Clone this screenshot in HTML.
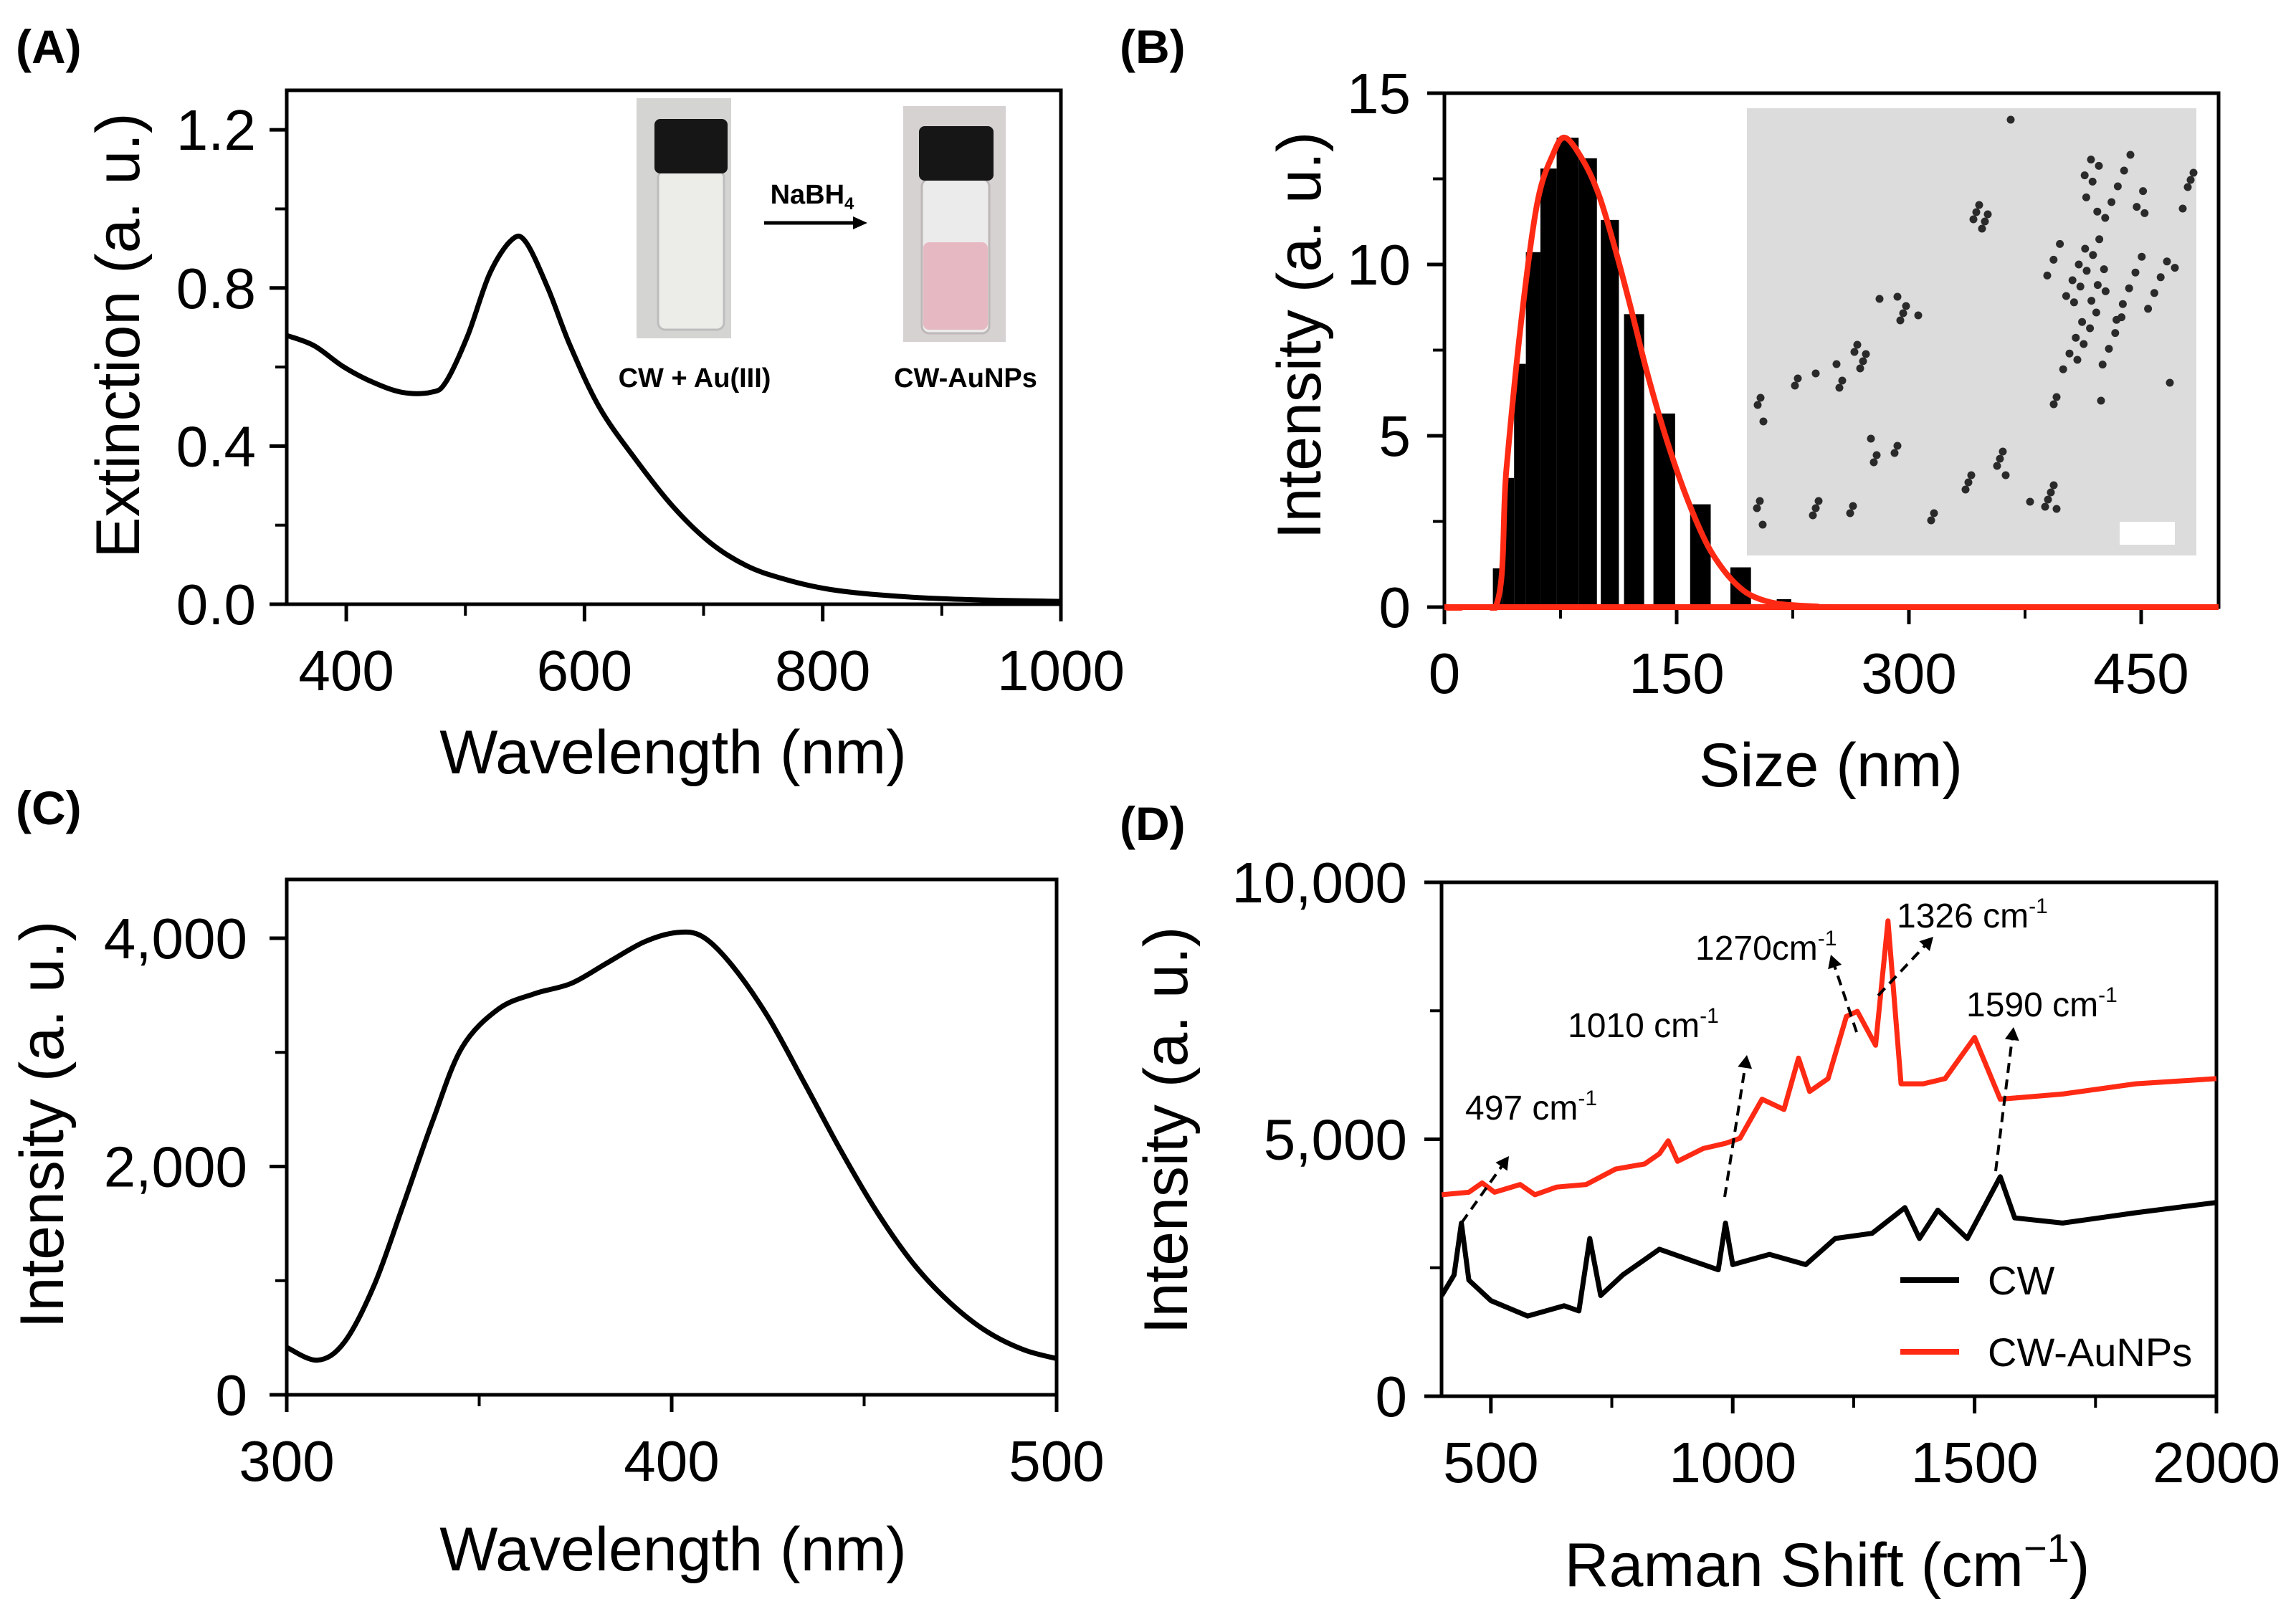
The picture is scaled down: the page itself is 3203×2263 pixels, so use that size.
<!DOCTYPE html>
<html><head><meta charset="utf-8"><style>
html,body{margin:0;padding:0;background:#fff;}
svg{display:block;font-family:"Liberation Sans",Arial,sans-serif;}
</style></head><body>
<svg id="fig" width="3203" height="2263" viewBox="0 0 3203 2263" xmlns="http://www.w3.org/2000/svg">
<defs><clipPath id="clipB"><rect x="2000" y="100" width="1110" height="752"/></clipPath></defs>
<rect width="3203" height="2263" fill="#fff"/>
<g font-weight="bold" font-size="66">
<text x="22" y="88">(A)</text>
<text x="1562" y="88">(B)</text>
<text x="22" y="1150">(C)</text>
<text x="1562" y="1172">(D)</text>
</g>
<g>
<rect x="888" y="137" width="132" height="335" fill="#d4d4d2"/>
<rect x="918" y="238" width="92" height="222" rx="10" fill="#ecece9" stroke="#bdbdbd" stroke-width="3"/>
<rect x="913" y="166" width="102" height="76" rx="8" fill="#161616"/>
<rect x="1260" y="148" width="143" height="329" fill="#d6d2d2"/>
<rect x="1286" y="250" width="94" height="215" rx="10" fill="#ecebeb" stroke="#bdb7b8" stroke-width="3"/>
<rect x="1288" y="338" width="90" height="122" rx="8" fill="#e6b9c2"/>
<rect x="1282" y="176" width="104" height="76" rx="8" fill="#161616"/>
<text x="1133" y="284" font-size="38" font-weight="bold" text-anchor="middle">NaBH<tspan font-size="24" dy="8">4</tspan></text>
<line x1="1066" y1="311" x2="1195" y2="311" stroke="#000" stroke-width="5"/>
<polygon points="1210,311 1190,302 1190,320" fill="#000"/>
<text x="969" y="540" font-size="38" font-weight="bold" text-anchor="middle">CW + Au(III)</text>
<text x="1347" y="540" font-size="38" font-weight="bold" text-anchor="middle">CW-AuNPs</text>
</g>
<g id="tem">
<rect x="2437" y="151" width="627" height="624" fill="#dcdcdc"/>
<rect x="2957" y="728" width="77" height="32" fill="#fff"/>
</g>
<g id="plots"></g>
</svg>
<script>
// ---------- Panel A data ----------
const aWave = [350,373,397.5,422,447,471,483.6,502,520.5,539,551,569.6,588,612.7,643,674,705,735.6,766,803,846,907.7,1000];
const aExt  = [0.680,0.654,0.601,0.562,0.536,0.536,0.562,0.680,0.837,0.922,0.915,0.797,0.654,0.497,0.366,0.248,0.157,0.098,0.065,0.039,0.024,0.013,0.007];
const aXTicks = [400,600,800,1000];
const aYTicks = [0,0.4,0.8,1.2];
const aYTickLabels = ["0.0","0.4","0.8","1.2"];
// ---------- Panel B data ----------
const bBinStart = [31.3,37.9,45,52.6,62,72.5,86.7,101,116,135,158.7,184.7,214.6];
const bBinEnd   = [37.9,45,52.6,62,72.5,86.7,98.5,112.7,129,149,172,198,224];
const bCounts   = [1.13,3.77,7.1,10.36,12.8,13.7,13.1,11.3,8.55,5.65,3.0,1.16,0.23];
const bFitX = [0,33,40,50,60,70,78,90,100,110,120,130,140,150,160,170,180,190,200,215,240,260,500];
const bFitY = [0,0,4,8.5,11.8,13.2,13.7,13,12,10.5,8.8,7,5.4,4,2.8,1.8,1.1,0.6,0.3,0.1,0.02,0,0];
const bXTicks = [0,150,300,450];
const bYTicks = [0,5,10,15];
// ---------- Panel C data ----------
const cWave = [300,308,315,322.7,330,338,345.5,355,364.5,374,383.4,392.9,401.4,408,415.6,425,434.6,444,453.5,463,472.5,482,491.5,500];
const cInt  = [416,303,462,959,1638,2407,3040,3380,3515,3606,3787,3968,4050,4014,3765,3312,2724,2136,1593,1140,801,552,394,317];
const cXTicks = [300,400,500];
const cYTicks = [0,2000,4000];
const cYTickLabels = ["0","2,000","4,000"];
// ---------- Panel D data ----------
const dRedX = [398.5,454.5,482,507.6,560.6,591,636,697,757.6,818,848.5,866.6,886,939,985,1015,1060.6,1106,1136,1159,1197,1235,1257.5,1295.4,1321,1348,1394,1439,1500,1553,1682,1833,2000];
const dRedY = [3920,3970,4150,3970,4120,3920,4070,4120,4420,4520,4720,4970,4570,4820,4920,5020,5780,5580,6580,5930,6180,7390,7490,6830,9250,6080,6080,6180,6980,5780,5880,6080,6180];
const dBlkX = [398.5,424,439,454.5,500,576,651.5,682,704.5,727,772.7,848.5,909,970,985,1000,1076,1151,1212,1288,1356,1386,1424,1485,1553,1583,1682,1833,2000];
const dBlkY = [1960,2360,3370,2260,1860,1560,1760,1660,3070,1960,2360,2860,2660,2460,3370,2560,2760,2560,3070,3170,3670,3070,3620,3070,4270,3470,3370,3570,3770];
const dXTicks = [500,1000,1500,2000];
const dYTicks = [0,5000,10000];
const dYTickLabels = ["0","5,000","10,000"];
const dAnnText = ["497","1010","1270","1326","1590"];
const dAnnSep = [" cm"," cm","cm"," cm"," cm"];

const NS="http://www.w3.org/2000/svg";
const root=document.getElementById('plots');
function mk(tag,attrs,parent){const e=document.createElementNS(NS,tag);for(const k in attrs)e.setAttribute(k,attrs[k]);(parent||root).appendChild(e);return e;}
function lin(d0,d1,r0,r1){return v=>r0+(v-d0)*(r1-r0)/(d1-d0);}
function pathD(xs,ys,X,Y){return xs.map((v,i)=>(i?'L':'M')+X(v).toFixed(1)+','+Y(ys[i]).toFixed(1)).join('');}
function smoothD(xs,ys,X,Y){
  const P=xs.map((v,i)=>[X(v),Y(ys[i])]);
  let d='M'+P[0][0].toFixed(1)+','+P[0][1].toFixed(1);
  for(let i=0;i<P.length-1;i++){
    const p0=P[Math.max(0,i-1)],p1=P[i],p2=P[i+1],p3=P[Math.min(P.length-1,i+2)];
    const c1=[p1[0]+(p2[0]-p0[0])/6,p1[1]+(p2[1]-p0[1])/6];
    const c2=[p2[0]-(p3[0]-p1[0])/6,p2[1]-(p3[1]-p1[1])/6];
    d+='C'+c1.map(v=>v.toFixed(1)).join(',')+' '+c2.map(v=>v.toFixed(1)).join(',')+' '+p2[0].toFixed(1)+','+p2[1].toFixed(1);
  }
  return d;
}

function axes(p){
  const g=mk('g',{});
  
  
  const fr=mk('rect',{x:p.L,y:p.T,width:p.R-p.L,height:p.B-p.T,fill:'none',stroke:'#000','stroke-width':5},g);
  
  
  p.xt.forEach((v,i)=>{
    const x=p.X(v);
    const t=mk('line',{x1:x,y1:p.B,x2:x,y2:p.B+24,stroke:'#000','stroke-width':5},g);
    
    
    const l=mk('text',{x:x,y:p.B+120,'font-size':80,'text-anchor':'middle'},g);
    l.textContent=p.xl?p.xl[i]:String(v);
    
    
  });
  p.xm.forEach(v=>{const x=p.X(v);const t=mk('line',{x1:x,y1:p.B,x2:x,y2:p.B+16,stroke:'#000','stroke-width':4},g);
    
    });
  p.yt.forEach((v,i)=>{
    const y=p.Y(v);
    const t=mk('line',{x1:p.L-24,y1:y,x2:p.L,y2:y,stroke:'#000','stroke-width':5},g);
    
    
    const l=mk('text',{x:p.L-p.lo,y:y+28,'font-size':80,'text-anchor':'end'},g);
    l.textContent=p.yl?p.yl[i]:String(v);
    
    
  });
  p.ym.forEach(v=>{const y=p.Y(v);const t=mk('line',{x1:p.L-16,y1:y,x2:p.L,y2:y,stroke:'#000','stroke-width':4},g);
    
    });
  const xt=mk('text',{x:p.xtx,y:p.xty,'font-size':86,'text-anchor':'middle'},g);
  xt.innerHTML=p.xtitle;
  
  
  const yt=mk('text',{x:0,y:0,'font-size':86,'text-anchor':'middle','dominant-baseline':'central',transform:`translate(${p.ytx},${p.yty}) rotate(-90)`},g);
  yt.textContent=p.ytitle;
  
  
}

(function(){
  const L=400,R=1480,T=126,B=843;
  const X=lin(350,1000,L,R), Y=lin(0,1.3,B,T);
  axes({name:'panel-a',L,R,T,B,X,Y,xt:aXTicks,xm:[500,700,900],yt:aYTicks,yl:aYTickLabels,ym:[0.2,0.6,1.0],lo:43,
    xtitle:'Wavelength (nm)',xtx:939,xty:1079,ytitle:'Extinction (a. u.)',ytx:165,yty:468});
  const p=mk('path',{d:smoothD(aWave,aExt,X,Y),fill:'none',stroke:'#000','stroke-width':7,'stroke-linejoin':'round'});
  
  
})();

(function(){
  const L=2015,R=3095,T=130,B=847;
  const X=lin(0,500,L,R), Y=lin(0,15,B,T);
  bBinStart.forEach((s,i)=>{
    const r=mk('rect',{x:X(s),y:Y(bCounts[i]),width:X(bBinEnd[i])-X(s),height:B-Y(bCounts[i]),fill:'#000'});
    
    
  });
  axes({name:'panel-b',L,R,T,B,X,Y,xt:bXTicks,xm:[75,225,375],yt:bYTicks,ym:[2.5,7.5,12.5],lo:47,
    xtitle:'Size (nm)',xtx:2554,xty:1097,ytitle:'Intensity (a. u.)',ytx:1813,yty:468});
  const p=mk('path',{d:smoothD(bFitX,bFitY,X,Y),fill:'none',stroke:'#ff2a14','stroke-width':8,'stroke-linejoin':'round','clip-path':'url(#clipB)'});
  
  
  const base=mk('line',{x1:X(0),y1:B,x2:X(500),y2:B,stroke:'#ff2a14','stroke-width':8});
  
  
})();

(function(){
  const L=400,R=1474,T=1227,B=1946;
  const X=lin(300,500,L,R), Y=lin(0,4515,B,T);
  axes({name:'panel-c',L,R,T,B,X,Y,xt:cXTicks,xm:[350,450],yt:cYTicks,yl:cYTickLabels,ym:[1000,3000],lo:55,
    xtitle:'Wavelength (nm)',xtx:939,xty:2191,ytitle:'Intensity (a. u.)',ytx:59,yty:1569});
  const p=mk('path',{d:smoothD(cWave,cInt,X,Y),fill:'none',stroke:'#000','stroke-width':7,'stroke-linejoin':'round'});
  
  
})();

(function(){
  const L=2011,R=3092,T=1231,B=1948;
  const X=lin(398,2000,L,R), Y=lin(0,10000,B,T);
  axes({name:'panel-d',L,R,T,B,X,Y,xt:dXTicks,xm:[750,1250,1750],yt:dYTicks,yl:dYTickLabels,ym:[2500,7500],lo:48,
    xtitle:'Raman Shift (cm<tspan font-size="56" dy="-34">−1</tspan><tspan dy="34">)</tspan>',xtx:2549,xty:2213,ytitle:'Intensity (a. u.)',ytx:1627,yty:1577});
  const pr=mk('path',{d:pathD(dRedX,dRedY,X,Y),fill:'none',stroke:'#ff2a14','stroke-width':7,'stroke-linejoin':'round'});
  
  
  const pb=mk('path',{d:pathD(dBlkX,dBlkY,X,Y),fill:'none',stroke:'#000','stroke-width':7,'stroke-linejoin':'round'});
  
  
  const lg=mk('g',{});
  
  
  [['CW','#000',1786],['CW-AuNPs','#ff2a14',1886]].forEach(e=>{
    const ln=mk('line',{x1:2651,y1:e[2],x2:2733,y2:e[2],stroke:e[1],'stroke-width':8},lg);
    
    
    const t=mk('text',{x:2773,y:e[2]+20,'font-size':56},lg);
    t.textContent=e[0];
    
    
  });
  const annPos=[[2044,1562],[2187,1447],[2365,1339],[2646,1294],[2743,1418]];
  const arrows=[[2039,1706,2105,1613],[2406,1670,2437,1472],[2590,1440,2554,1332],[2620,1389,2697,1307],[2784,1634,2809,1433]];
  dAnnText.forEach((s,i)=>{
    const t=mk('text',{x:annPos[i][0],y:annPos[i][1],'font-size':48});
    t.innerHTML=s+dAnnSep[i]+'<tspan font-size="30" dy="-20">-1</tspan>';
    
    
    const a=arrows[i];
    const ang=Math.atan2(a[3]-a[1],a[2]-a[0]);
    const l=mk('line',{x1:a[0],y1:a[1],x2:a[2]-14*Math.cos(ang),y2:a[3]-14*Math.sin(ang),stroke:'#000','stroke-width':4,'stroke-dasharray':'14 9'});
    
    
    const h=18,w=10,bx=a[2]-h*Math.cos(ang),by=a[3]-h*Math.sin(ang);
    const pts=[a[2],a[3],bx+w*Math.sin(ang),by-w*Math.cos(ang),bx-w*Math.sin(ang),by+w*Math.cos(ang)].map(v=>v.toFixed(1));
    const hd=mk('polygon',{points:pts.join(' '),fill:'#000'});
    
    
  });
})();

(function(){
  const tem=document.getElementById('tem');
  const clusters=[[2788,178,1],[2760,300,6],[2950,260,14],[2990,400,10],[2900,380,16],[2920,480,12],[2690,420,1],[2640,430,5],[2600,500,5],[2550,520,4],[2500,530,2],[2460,570,3],[2630,630,5],[2450,720,3],[2540,700,3],[2600,720,2],[2680,710,2],[2740,680,3],[2800,650,4],[2850,690,6],[2870,570,2],[2940,555,1],[3040,520,1],[3062,310,1],[3040,250,3]];
  let k=0;
  clusters.forEach(c=>{
    for(let i=0;i<c[2];i++){
      k++;
      const dx=((k*37)%41)-20, dy=((k*53)%43)-21;
      const s=c[2]>6?2.2:1;
      const d=document.createElementNS(NS,'circle');
      d.setAttribute('cx',c[0]+dx*s);d.setAttribute('cy',c[1]+dy*s);d.setAttribute('r',5.5);d.setAttribute('fill','#2a2a2a');
      
      
      tem.insertBefore(d,tem.lastElementChild);
    }
  });
})();
</script>
</body></html>
